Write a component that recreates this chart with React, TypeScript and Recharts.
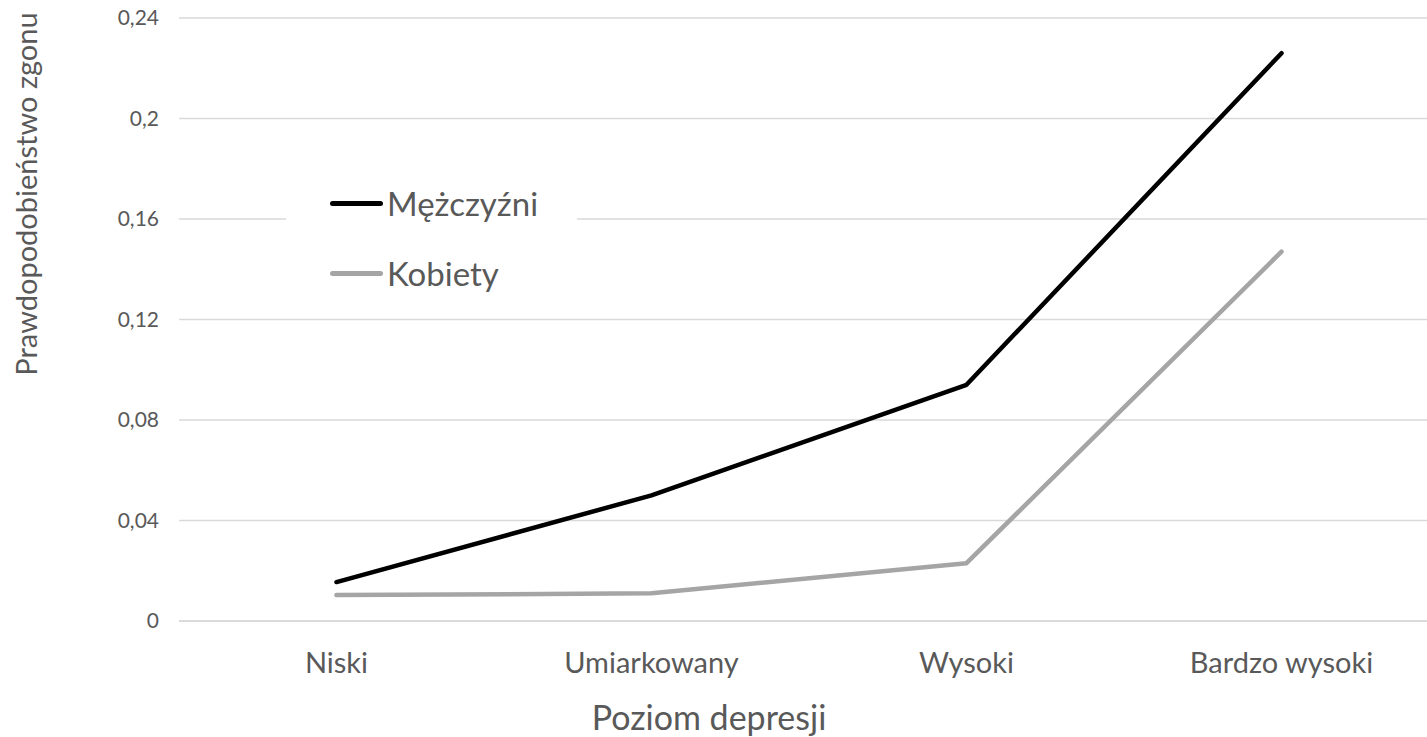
import { LineChart, Line, XAxis, YAxis, CartesianGrid, Label } from "recharts";

const levels = ["Niski", "Umiarkowany", "Wysoki", "Bardzo wysoki"];
const men = [0.0155, 0.05, 0.094, 0.226];
const women = [0.0103, 0.011, 0.023, 0.147];
const yTicks = [0, 0.04, 0.08, 0.12, 0.16, 0.2, 0.24];

const series = [
  { key: "Mężczyźni", color: "#000000" },
  { key: "Kobiety", color: "#a5a5a5" },
];

const data = levels.map((name, i) => ({ name, "Mężczyźni": men[i], Kobiety: women[i] }));

const FONT = "Lato, 'Open Sans', sans-serif";
const TEXT = "#595959";

// legend sits inside the plot on a white box, like the Excel original
function LegendBox() {
  return (
    <div style={{ position: "absolute", left: 286, top: 170, width: 291, height: 140, background: "#fff" }}>
      {series.map((s, i) => (
        <div
          key={s.key}
          style={{ position: "absolute", left: 44, top: 13 + i * 70, display: "flex", alignItems: "center", height: 40 }}
        >
          <div style={{ width: 53, height: 5, background: s.color, borderRadius: 3 }} />
          <span style={{ marginLeft: 4, fontFamily: FONT, fontSize: 33, color: TEXT, lineHeight: "40px" }}>{s.key}</span>
        </div>
      ))}
    </div>
  );
}

export default function App() {
  return (
    <div style={{ position: "absolute", left: 0, top: 0, width: 1427, height: 737, overflow: "hidden", background: "#fff" }}>
      <LineChart width={1440} height={737} data={data} margin={{ top: 18, right: 1, left: 0, bottom: 0 }}>
        <CartesianGrid vertical={false} stroke="#d9d9d9" strokeWidth={1.5} />
        <XAxis
          dataKey="name"
          scale="band"
          height={116}
          axisLine={{ stroke: "#d9d9d9", strokeWidth: 1.5 }}
          tickLine={false}
          tickMargin={25}
          tick={{ fontSize: 29, fill: TEXT, fontFamily: FONT }}
        >
          <Label
            content={() => (
              <text x={709} y={730} textAnchor="middle" fontSize={34} fill={TEXT} fontFamily={FONT}>
                Poziom depresji
              </text>
            )}
          />
        </XAxis>
        <YAxis
          width={179}
          domain={[0, 0.24]}
          ticks={yTicks}
          axisLine={false}
          tickLine={false}
          tickMargin={14}
          tickFormatter={(v: number) => String(v).replace(".", ",")}
          tick={{ fontSize: 21, fill: TEXT, fontFamily: FONT }}
        >
          <Label
            content={() => (
              <text
                x={25}
                y={194}
                transform="rotate(-90 25 194)"
                textAnchor="middle"
                dominantBaseline="central"
                fontSize={29}
                fill={TEXT}
                fontFamily={FONT}
              >
                Prawdopodobieństwo zgonu
              </text>
            )}
          />
        </YAxis>
        {series.map((s) => (
          <Line
            key={s.key}
            type="linear"
            dataKey={s.key}
            stroke={s.color}
            strokeWidth={4.5}
            strokeLinecap="round"
            strokeLinejoin="round"
            dot={false}
            activeDot={false}
            isAnimationActive={false}
          />
        ))}
      </LineChart>
      <LegendBox />
    </div>
  );
}
